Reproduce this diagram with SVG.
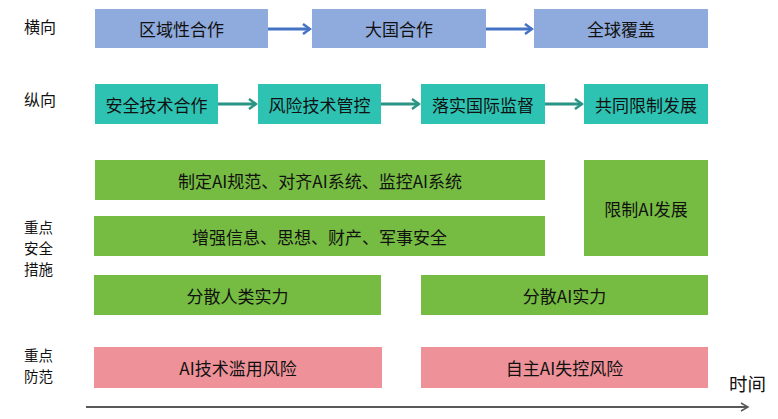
<svg xmlns="http://www.w3.org/2000/svg" width="778" height="419" viewBox="0 0 778 419">
<defs>
<style>
text{font-family:"Noto Sans CJK SC","Microsoft YaHei",sans-serif;font-size:17px;fill:#111;}
.bt{text-anchor:middle;dominant-baseline:central;}
.lbl{font-size:16px;}
.lbs{font-size:14.5px;}
.blue{fill:#8FAADC;}
.teal{fill:#2EC2B2;}
.green{fill:#76BC42;}
.pink{fill:#EE9199;}
.ab{stroke:#4472C4;stroke-width:3;fill:none;}
.at{stroke:#2A9485;stroke-width:3;fill:none;}
.ax{stroke:#595959;stroke-width:2;fill:none;}
</style>
<marker id="mb" markerWidth="10" markerHeight="12" refX="8" refY="6" orient="auto" markerUnits="userSpaceOnUse"><path d="M1,1 L8,6 L1,11" fill="none" stroke="#4472C4" stroke-width="2.5"/></marker>
<marker id="mt" markerWidth="10" markerHeight="12" refX="8" refY="6" orient="auto" markerUnits="userSpaceOnUse"><path d="M1,1 L8,6 L1,11" fill="none" stroke="#2A9485" stroke-width="2.5"/></marker>
<marker id="ma" markerWidth="10" markerHeight="10" refX="8" refY="5" orient="auto" markerUnits="userSpaceOnUse"><path d="M1,1 L8,5 L1,9" fill="none" stroke="#595959" stroke-width="1.5"/></marker>
</defs>
<rect width="778" height="419" fill="#fff"/>
<g id="labels">
<text x="24" y="33" class="lbl">横向</text>
<text x="24" y="106" class="lbl">纵向</text>
<text x="24" y="232.5" class="lbs">重点</text>
<text x="24" y="253.5" class="lbs">安全</text>
<text x="24" y="274.5" class="lbs">措施</text>
<text x="24" y="361" class="lbs">重点</text>
<text x="24" y="382" class="lbs">防范</text>
<text x="729" y="391" style="font-size:18.5px">时间</text>
</g>
<g id="n-h1"><rect class="blue" x="95" y="9" width="173" height="39"/><text class="bt" x="181.5" y="28.5">区域性合作</text></g>
<g id="n-h2"><rect class="blue" x="312" y="9" width="174" height="39"/><text class="bt" x="399" y="28.5">大国合作</text></g>
<g id="n-h3"><rect class="blue" x="534" y="9" width="174" height="39"/><text class="bt" x="621" y="28.5">全球覆盖</text></g>
<g id="n-v1"><rect class="teal" x="95" y="84" width="123" height="40"/><text class="bt" x="156.5" y="104">安全技术合作</text></g>
<g id="n-v2"><rect class="teal" x="258" y="84" width="123" height="40"/><text class="bt" x="319.5" y="104">风险技术管控</text></g>
<g id="n-v3"><rect class="teal" x="421" y="84" width="124" height="40"/><text class="bt" x="483" y="104">落实国际监督</text></g>
<g id="n-v4"><rect class="teal" x="584" y="84" width="124" height="40"/><text class="bt" x="646" y="104">共同限制发展</text></g>
<g id="n-s1"><rect class="green" x="95" y="160" width="450" height="40"/><text class="bt" x="320" y="180">制定AI规范、对齐AI系统、监控AI系统</text></g>
<g id="n-s2"><rect class="green" x="94" y="216" width="451" height="40"/><text class="bt" x="319.5" y="236">增强信息、思想、财产、军事安全</text></g>
<g id="n-s3"><rect class="green" x="584" y="160" width="124" height="96"/><text class="bt" x="646" y="208">限制AI发展</text></g>
<g id="n-s4"><rect class="green" x="94" y="275" width="287" height="40"/><text class="bt" x="237.5" y="295">分散人类实力</text></g>
<g id="n-s5"><rect class="green" x="421" y="275" width="287" height="40"/><text class="bt" x="564.5" y="295">分散AI实力</text></g>
<g id="n-r1"><rect class="pink" x="94" y="347" width="288" height="41"/><text class="bt" x="238" y="367.5">AI技术滥用风险</text></g>
<g id="n-r2"><rect class="pink" x="421" y="347" width="287" height="41"/><text class="bt" x="564.5" y="367.5">自主AI失控风险</text></g>
<g id="connectors">
<line class="ab" x1="268" y1="29" x2="310" y2="29" marker-end="url(#mb)"/>
<line class="ab" x1="486" y1="29" x2="532" y2="29" marker-end="url(#mb)"/>
<line class="at" x1="218" y1="104" x2="256" y2="104" marker-end="url(#mt)"/>
<line class="at" x1="381" y1="104" x2="419" y2="104" marker-end="url(#mt)"/>
<line class="at" x1="545" y1="104" x2="582" y2="104" marker-end="url(#mt)"/>
<line class="ax" x1="86" y1="407" x2="748" y2="407" marker-end="url(#ma)"/>
</g>
</svg>
